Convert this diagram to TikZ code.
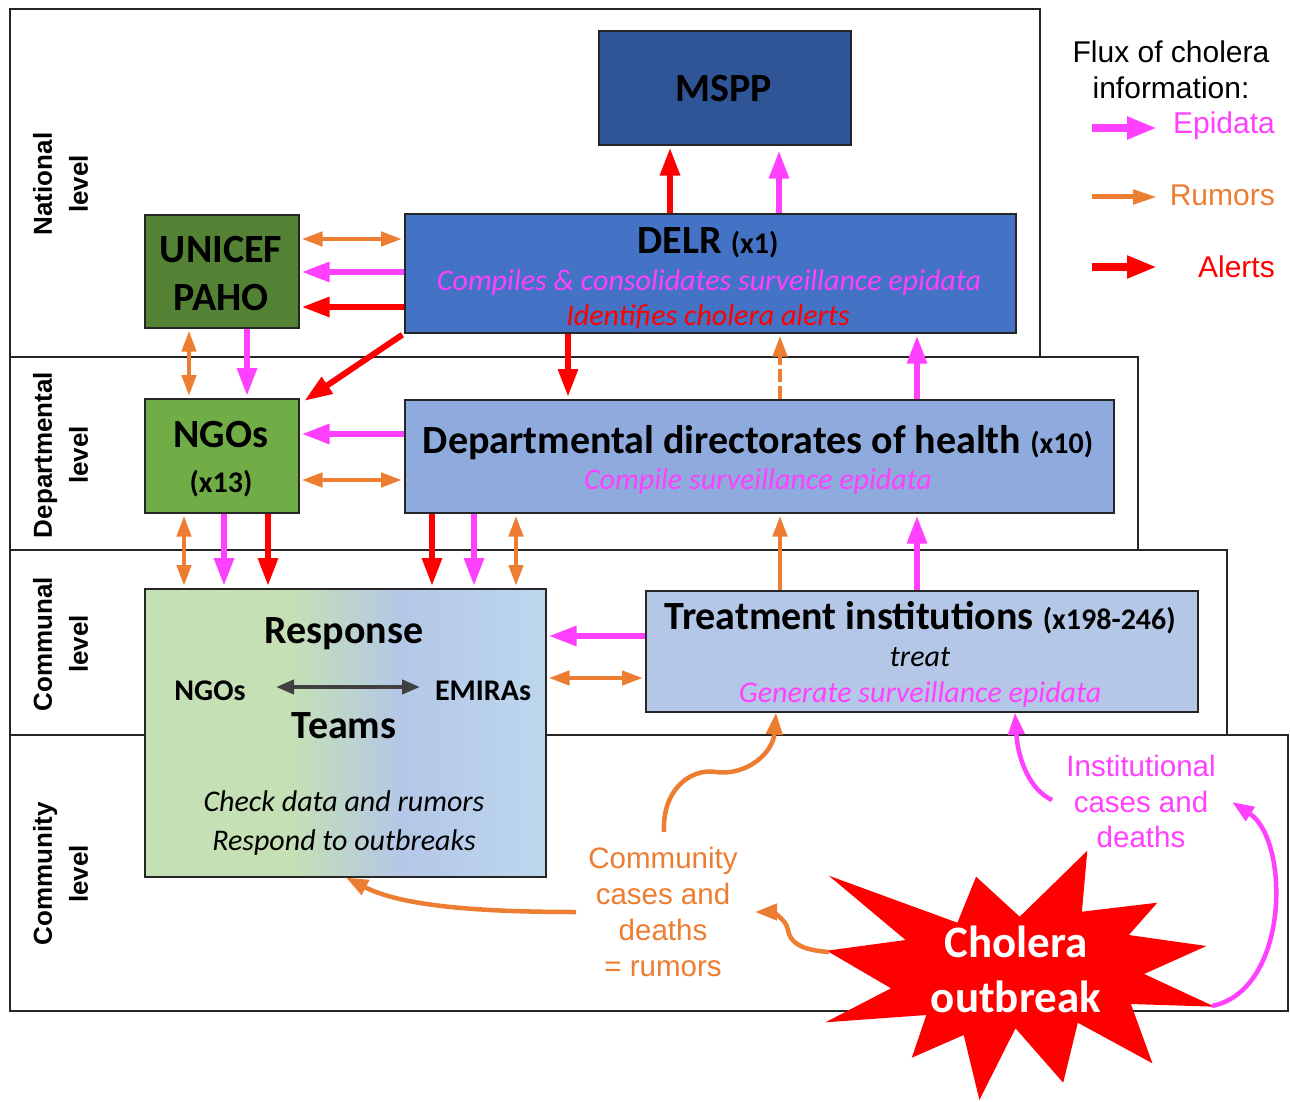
\documentclass[tikz,border=0pt]{standalone}
\usepackage{fontspec}
\setmainfont{Carlito}
\newfontfamily\arialf{Liberation Sans}
\usetikzlibrary{arrows.meta}
\definecolor{mag}{RGB}{255,64,255}
\definecolor{org}{RGB}{237,125,49}
\definecolor{redA}{RGB}{255,0,0}
\definecolor{msppc}{RGB}{47,85,151}
\definecolor{delrc}{RGB}{68,114,196}
\definecolor{unic}{RGB}{84,130,53}
\definecolor{ngoc}{RGB}{112,173,71}
\definecolor{deptc}{RGB}{143,170,220}
\definecolor{treatc}{RGB}{180,199,231}
\definecolor{respG}{RGB}{197,224,180}
\definecolor{respB}{RGB}{180,199,231}
\definecolor{respBB}{RGB}{189,215,238}
\definecolor{darkg}{RGB}{64,64,64}
\pgfdeclarehorizontalshading{respshade}{100bp}{color(0bp)=(respG); color(43bp)=(respG); color(57bp)=(respB); color(75bp)=(respBB); color(100bp)=(respBB)}
\newcommand\fsz[2]{\fontsize{#1}{#2}\selectfont}
\begin{document}
\begin{tikzpicture}[x=1pt,y=-1pt,
  box/.style={draw=black!85, line width=1.6pt, inner sep=0pt, anchor=north west},
  frame/.style={draw=black!85, line width=1.5pt},
  lvl/.style={rotate=90, align=center, inner sep=0pt, font=\arialf\bfseries\fsz{26}{36}},
  bigt/.style={anchor=base, inner sep=0pt, font=\bfseries\fsz{40}{40}},
  midt/.style={anchor=base, inner sep=0pt, font=\bfseries\fsz{30}{30}},
  itt/.style={anchor=base, inner sep=0pt, font=\itshape\fsz{30}{30}},
  ep/.style={draw=mag, line width=6pt, -{Triangle[length=28pt,width=19pt]}, shorten >=2pt},
  al/.style={draw=redA, line width=6pt, -{Triangle[length=28pt,width=19pt]}, shorten >=2pt},
  ru/.style={draw=org, line width=4.5pt, -{Triangle[length=21pt,width=14pt]}, shorten >=2pt},
  rr/.style={draw=org, line width=4.5pt, {Triangle[length=21pt,width=14pt]}-{Triangle[length=21pt,width=14pt]}, shorten >=2pt, shorten <=2pt},
  epc/.style={draw=mag, line width=4.5pt, -{Triangle[length=22pt,width=16pt]}},
  ruc/.style={draw=org, line width=4.5pt, -{Triangle[length=22pt,width=16pt]}},
  legt/.style={inner sep=0pt, font=\arialf\fsz{30}{36}},
]
\useasboundingbox (0,0) rectangle (1290,1102);
\fill[white] (0,0) rectangle (1290,1102);

% level frames
\draw[frame] (10,9) rectangle (1040,357);
\draw[frame] (10,357) rectangle (1138,550);
\draw[frame] (10,550) rectangle (1227,735);
\draw[frame] (10,735) rectangle (1288,1011);

\node[lvl] (lnat) at (60.7,184) {National\\level};
\node[lvl] (ldep) at (60.7,455) {Departmental\\level};
\node[lvl] (lcom) at (60.7,644) {Communal\\level};
\node[lvl] (lcty) at (60.7,874) {Community\\level};

% boxes
\node[box, fill=msppc, minimum width=252pt, minimum height=114pt] (mspp) at (598,30) {};
\node[box, fill=delrc, minimum width=611pt, minimum height=119pt] (delr) at (404,213) {};
\node[box, fill=unic, minimum width=154pt, minimum height=113pt] (unicef) at (144,214) {};
\node[box, fill=ngoc, minimum width=154pt, minimum height=114pt] (ngo) at (144,398) {};
\node[box, fill=deptc, minimum width=709pt, minimum height=113pt] (dept) at (404,399) {};
\node[box, shade, shading=respshade, minimum width=401pt, minimum height=288pt] (resp) at (144,588) {};
\node[box, fill=treatc, minimum width=552pt, minimum height=121pt] (treat) at (645,590) {};

% texts in boxes
\node[bigt] (msppT) at (724,102) {MSPP};
\node[anchor=base, inner sep=0pt, font=\bfseries] (delrT) at (708,253) {\fsz{40}{40}DELR \fsz{30}{30}(x1)};
\node[itt, text=mag] (delrT2) at (709,290) {Compiles \& consolidates surveillance epidata};
\node[itt, text=redA] (delrT3) at (708,325) {Identifies cholera alerts};
\node[bigt] (unicefT) at (221,262) {UNICEF};
\node[bigt] (pahoT) at (221,310) {PAHO};
\node[bigt] (ngoT) at (221,447) {NGOs};
\node[midt] (ngoT2) at (221,492) {(x13)};
\node[anchor=base, inner sep=0pt, font=\bfseries] (deptT) at (758,453) {\fsz{40}{40}Departmental directorates of health \fsz{30}{30}(x10)};
\node[itt, text=mag] (deptT2) at (758,489) {Compile surveillance epidata};
\node[bigt] (respT) at (344,643) {Response};
\node[midt] (rngo) at (210,700) {NGOs};
\node[midt] (remi) at (483,700) {EMIRAs};
\node[bigt] (teamT) at (344,738) {Teams};
\node[itt] (respT2) at (344,811) {Check data and rumors};
\node[itt] (respT3) at (344,850) {Respond to outbreaks};
\node[anchor=base, inner sep=0pt, font=\bfseries] (treatT) at (920,629) {\fsz{40}{40}Treatment institutions \fsz{30}{30}(x198-246)};
\node[itt] (treatT2) at (920,666) {treat};
\node[itt, text=mag] (treatT3) at (920,702) {Generate surveillance epidata};

\coordinate (ga) at (276,687);
\coordinate (gb) at (420,687);
\draw[draw=darkg, line width=4pt, {Triangle[length=18pt,width=14pt]}-{Triangle[length=18pt,width=14pt]}] (ga) -- (gb);

% legend
\node[legt, align=center] (legT) at (1171,69.3) {Flux of cholera\\information:};
\coordinate (le1) at (1092,128); \coordinate (le2) at (1157,128);
\coordinate (lr1) at (1092,197); \coordinate (lr2) at (1157,197);
\coordinate (la1) at (1092,267); \coordinate (la2) at (1157,267);
\draw[draw=mag, line width=8pt, -{Triangle[length=30pt,width=21pt]}] (le1) -- (le2);
\draw[draw=org, line width=5pt, -{Triangle[length=24pt,width=14pt]}] (lr1) -- (lr2);
\draw[draw=redA, line width=8pt, -{Triangle[length=30pt,width=21pt]}] (la1) -- (la2);
\node[legt, anchor=base east, text=mag] (legE) at (1275,134) {Epidata};
\node[legt, anchor=base east, text=org] (legR) at (1275,206) {Rumors};
\node[legt, anchor=base east, text=redA] (legA) at (1275,277) {Alerts};

% national connectors
\draw[al] (delr.north -| 670,0) -- (mspp.south -| 670,0);
\draw[ep, shorten >=5pt] (delr.north -| 779,0) -- (mspp.south -| 779,0);
\draw[rr] (unicef.east |- 0,239) -- (delr.west |- 0,239);
\draw[ep] (delr.west |- 0,272) -- (unicef.east |- 0,272);
\draw[al] (delr.west |- 0,307) -- (unicef.east |- 0,307);
\draw[rr] (unicef.south -| 189,0) -- (ngo.north -| 189,0);
\draw[ep] (unicef.south -| 247,0) -- (ngo.north -| 247,0);
\draw[al, shorten <=2pt] (delr.south west) -- ([xshift=3pt,yshift=-4pt]ngo.north east);
\draw[al] (delr.south -| 568,0) -- (dept.north -| 568,0);
\draw[ru, dash pattern=on 13pt off 4pt] (dept.north -| 780,0) -- (delr.south -| 780,0);
\draw[ep] (dept.north -| 917,0) -- (delr.south -| 917,0);

% departmental connectors
\draw[ep] (dept.west |- 0,434) -- (ngo.east |- 0,434);
\draw[rr] (ngo.east |- 0,480) -- (dept.west |- 0,480);
\draw[rr] (ngo.south -| 184,0) -- (resp.north -| 184,0);
\draw[ep] (ngo.south -| 224,0) -- (resp.north -| 224,0);
\draw[al] (ngo.south -| 268,0) -- (resp.north -| 268,0);
\draw[al] (dept.south -| 432,0) -- (resp.north -| 432,0);
\draw[ep] (dept.south -| 474,0) -- (resp.north -| 474,0);
\draw[rr] (dept.south -| 516,0) -- (resp.north -| 516,0);
\draw[ru] (treat.north -| 780,0) -- (dept.south -| 780,0);
\draw[ep] (treat.north -| 917,0) -- (dept.south -| 917,0);

% communal connectors
\draw[ep] (treat.west |- 0,636) -- (resp.east |- 0,636);
\draw[rr] (resp.east |- 0,678) -- (treat.west |- 0,678);

% outbreak star
\fill[redA] (828.8,875.7) -- (957.4,922.7) -- (976.1,876.7) -- (1019.7,916.7) -- (1087.3,850.7) -- (1081.9,911.7) -- (1157.4,902.7) -- (1128.8,935) -- (1206.4,946) -- (1144.1,974) -- (1214.7,1006.7) -- (1130.9,1004) -- (1152.4,1063.3) -- (1077.8,1022.7) -- (1063.2,1082.7) -- (1015.5,1028.3) -- (979.4,1100) -- (963.7,1035) -- (911.8,1057.7) -- (926.3,1015) -- (825.5,1022.3) -- (891,988.3) -- (826.7,950.7) -- (905.6,940) -- cycle;
\node[anchor=base, inner sep=0pt, text=white, font=\bfseries\fsz{45}{45}] (chol1) at (1016,957) {Cholera};
\node[anchor=base, inner sep=0pt, text=white, font=\bfseries\fsz{45}{45}] (chol2) at (1016,1012) {outbreak};

% community texts
\node[legt, align=center, text=org, font=\arialf\fsz{29.5}{36}] (comm) at (663,912) {Community\\cases and\\deaths\\= rumors};
\node[legt, align=center, text=mag, font=\arialf\fsz{29.5}{35.5}] (inst) at (1141,801.5) {Institutional\\cases and\\deaths};

\coordinate (c1) at (664,832);
\coordinate (c2) at (576,912);
\coordinate (c3) at (829,952);
\coordinate (i1) at (1052,800);
\coordinate (i2) at (1212,1006);
\draw[ruc] (c1) .. controls (662,790) and (690,768) .. (716,772) .. controls (748,776) and (773,752) .. (treat.south -| 776,0);
\draw[ruc] (c2) .. controls (470,912) and (400,905) .. (resp.south -| 346,0);
\draw[ruc] (c3) .. controls (800,950) and (790,942) .. (788,930) .. controls (786,918) and (770,912) .. (755,912);
\draw[epc] (i1) .. controls (1030,790) and (1018,760) .. (treat.south -| 1015,0);
\draw[epc] (i2) .. controls (1290,990) and (1290,840) .. (1232,802);
\end{tikzpicture}
\end{document}
